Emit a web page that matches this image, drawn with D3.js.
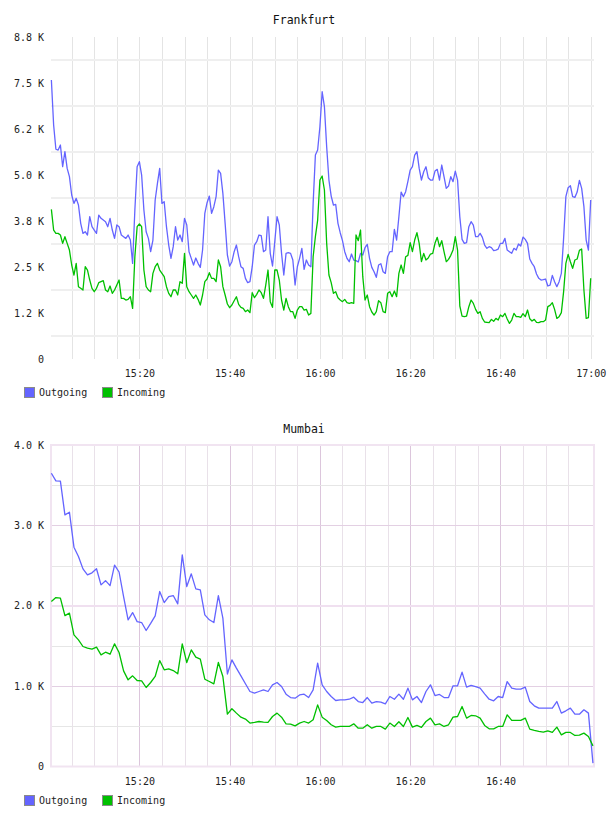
<!DOCTYPE html>
<html><head><meta charset="utf-8">
<script src="https://cdn.jsdelivr.net/npm/d3@7"></script>
<style>body{margin:0;background:#fff;} svg{display:block;}</style>
</head><body><svg id="c" width="608" height="816"></svg>
<script>
// ---------- DATA ----------
const seriesNames = ["Outgoing", "Incoming"];
const seriesColors = ["#6464ff", "#00c000"];

// Frankfurt: samples every 30 s starting 15:00:30
const frankfurtStart = "15:00:30";
const frankfurtStepSec = 30;
const frankfurtOutgoing = [
7580,6358,5700,5678,5814,5225,5633,5180,4954,4456,
4229,4365,4184,3686,3414,3459,3369,3867,3595,3505,
3414,3912,3822,3776,3731,3595,3822,3505,3278,3641,
3595,3369,3324,3278,3369,3233,2599,4048,5225,5361,
4999,4048,3459,3278,2916,3233,4320,4773,5180,4229,
4274,3595,3097,2735,3052,3595,3233,3369,3188,3822,
3641,2916,2735,2554,2744,2599,2490,2961,3957,4247,
4428,3957,4139,4410,5135,5044,4501,3686,2826,2527,
2644,2916,3097,2780,2509,2463,2192,2074,2101,2508,
3097,3188,3369,3351,2916,2961,3867,2871,2527,3188,
3867,3641,2871,2282,2871,2889,2871,2690,2010,2508,
2735,3007,2436,2690,2554,2508,4229,5543,5678,6312,
7263,6856,5769,4863,4428,4184,4202,3686,3432,3215,
2916,2735,2644,2853,2690,2672,2635,2871,2826,3025,
3115,2735,2490,2372,2219,2554,2590,2372,2327,2780,
2916,2916,3523,3233,3867,4537,4410,4546,4827,5135,
5225,5543,5633,5180,4863,5089,5225,4927,4863,4863,
5107,5153,4863,5271,4954,4637,4700,4954,4818,5107,
4863,3867,3251,3142,3160,3595,3731,3641,3324,3324,
3414,3305,3097,3007,3052,3025,2943,2961,2988,3142,
3142,3278,2961,2916,2871,3007,2961,3124,3070,3314,
3251,3142,2717,2599,2508,2309,2192,2146,2155,2173,
1983,2010,2273,2101,1965,2101,2327,3278,4410,4655,
4709,4410,4392,4537,4854,4637,4139,3233,2961,4320];
const frankfurtIncoming = [
4066,3505,3414,3414,3369,3143,3324,3143,2961,2554,
2282,2599,1965,1920,1875,2508,2418,2146,1920,1829,
1920,2074,2101,2128,1875,1829,1983,1784,1875,2010,
2146,1648,1648,1603,1621,1693,1376,2780,3595,3668,
3595,2418,1965,1875,1829,2327,2508,2599,2418,2327,
2237,1965,1784,1693,1875,1875,1739,2101,2056,2871,
1965,1829,1739,1648,1739,1621,1467,1739,2101,2173,
2345,2191,2191,2101,2690,2508,1965,1739,1494,1394,
1467,1584,1693,1485,1403,1376,1286,1331,1259,1802,
1666,1757,1874,1802,1648,2010,2418,1558,1403,2418,
2418,2146,1603,1331,1648,1422,1286,1286,1104,1331,
1422,1422,1331,1349,1195,1240,2780,3324,3776,4863,
4972,4592,3143,2282,2074,1784,1829,1666,1603,1558,
1621,1530,1512,1530,1512,3369,3215,3505,2237,1603,
1739,1422,1277,1195,1286,1584,1530,1286,1259,1784,
1829,1693,1847,1693,2327,2554,2327,2780,2817,3161,
2916,3233,3432,3143,2644,2871,2690,2744,2853,2871,
3143,3306,3052,3215,2916,2644,2708,2817,2961,3324,
2961,1440,1168,1150,1168,1422,1603,1512,1349,1240,
1286,1104,1005,996,987,1077,1023,1104,1059,1195,
1150,1240,1086,969,1059,1240,1150,1150,1132,1231,
1150,1331,1095,1032,1077,996,987,1014,1014,1059,
1422,1458,1530,1349,1104,1150,1259,1829,2599,2844,
2644,2463,2690,2717,2952,2988,1874,1104,1122,2192];

// Mumbai: samples every 60 s starting 15:00:30
const mumbaiStart = "15:00:30";
const mumbaiStepSec = 60;
const mumbaiOutgoing = [
3649,3553,3550,3131,3164,2729,2612,2459,2384,2410,
2460,2260,2312,2250,2505,2420,2114,1825,1915,1803,
1791,1692,1780,1874,2177,2040,2114,2127,2024,2633,
2239,2397,2210,2198,1887,1825,1791,2127,1846,1150,
1327,1224,1128,1029,933,913,933,954,933,1016,
1045,995,900,858,850,890,900,858,954,1286,
1016,933,871,821,829,829,837,862,808,796,
858,788,808,800,780,871,837,900,837,975,
829,871,796,933,1016,883,896,858,858,1004,
1004,1174,987,1008,995,975,904,837,817,871,
858,1057,975,962,962,987,808,755,726,726,
726,726,808,664,693,726,651,651,705,664,
42];
const mumbaiIncoming = [
2052,2102,2094,1878,1908,1638,1576,1493,1472,1460,
1485,1389,1422,1397,1526,1418,1190,1078,1128,1070,
1066,983,1045,1120,1318,1203,1215,1194,1153,1526,
1294,1451,1360,1335,1086,1057,1029,1294,1120,651,
718,664,614,590,540,548,560,552,548,622,
664,614,531,527,506,540,560,540,581,767,
614,573,519,490,498,498,498,531,477,477,
519,477,498,498,465,540,498,556,498,610,
490,511,486,560,602,519,531,498,519,614,
622,746,602,635,631,602,511,469,469,498,
498,643,573,573,573,602,465,449,436,428,
444,424,490,394,424,424,386,390,415,373,
257];

// Axis ticks
const xTimeDomain = ["15:00:25", "17:00:44"];
const frankfurtXTicks = ["15:20", "15:40", "16:00", "16:20", "16:40", "17:00"];
const mumbaiXTicks = ["15:20", "15:40", "16:00", "16:20", "16:40"];
const frankfurtYTickValues = [0, 1250, 2500, 3750, 5000, 6250, 7500, 8750];
const frankfurtYTickLabels = ["0", "1.2 K", "2.5 K", "3.8 K", "5.0 K", "6.2 K", "7.5 K", "8.8 K"];
const frankfurtYGrid = [625, 1875, 3125, 4375, 5625, 6875, 8125];
const mumbaiYTickValues = [0, 1000, 2000, 3000, 4000];
const mumbaiYTickLabels = ["0", "1.0 K", "2.0 K", "3.0 K", "4.0 K"];
const mumbaiYGridMinor = [500, 1500, 2500, 3500];
const mumbaiYGridMajor = [1000, 3000];
const mumbaiYGridStrong = [2000];

// ---------- DRAW ----------
const svg = d3.select("#c");
const FONT = "'DejaVu Sans Mono', monospace";
const parseT = s => { const p = s.split(":").map(Number); return new Date(2024, 0, 1, p[0], p[1], p[2] || 0); };

function timesFor(start, step, n) {
  const t0 = parseT(start);
  return d3.range(n).map(i => new Date(t0.getTime() + i * step * 1000));
}

function drawChart(o) {
  const g = svg.append("g");
  const x = d3.scaleTime().domain(xTimeDomain.map(parseT)).range([o.left, o.right]);
  const y = d3.scaleLinear().domain([0, o.yMax]).range([o.bottom, o.top]);

  const minorTimes = d3.timeMinute.every(5).range(parseT("15:05:00"), parseT(o.lastGrid)).concat([parseT(o.lastGrid)]);

  // vertical grid
  g.selectAll(".vg").data(minorTimes).join("line")
    .attr("x1", d => Math.round(x(d)) + 0.5).attr("x2", d => Math.round(x(d)) + 0.5)
    .attr("y1", o.top).attr("y2", o.bottom)
    .attr("stroke", d => (o.majorV && d.getMinutes() % 20 === 0) ? o.majorVColor : o.minorVColor)
    .attr("stroke-width", 1);

  // horizontal grids
  o.hGrids.forEach(hg => {
    g.selectAll(null).data(hg.values).join("line")
      .attr("x1", o.left).attr("x2", o.right)
      .attr("y1", d => Math.round(y(d)) + (hg.width % 2 ? 0.5 : 0))
      .attr("y2", d => Math.round(y(d)) + (hg.width % 2 ? 0.5 : 0))
      .attr("stroke", hg.color).attr("stroke-width", hg.width);
  });

  if (o.frame) {
    g.append("rect").attr("x", o.left).attr("y", o.top)
      .attr("width", o.right - o.left).attr("height", o.bottom - o.top)
      .attr("fill", "none").attr("stroke", o.frame).attr("stroke-width", 2);
  }

  // lines
  const times = timesFor(o.start, o.step, o.series[0].length);
  const line = d3.line().x((d, i) => x(times[i])).y(d => y(d));
  o.series.forEach((s, k) => {
    g.append("path").datum(s).attr("d", line)
      .attr("fill", "none").attr("stroke", seriesColors[k])
      .attr("stroke-width", 1.3).attr("stroke-linejoin", "round");
  });

  // y axis
  const ya = g.append("g").attr("transform", `translate(${o.left},0)`)
    .call(d3.axisLeft(y).tickValues(o.yTicks).tickFormat((d, i) => o.yLabels[i]).tickSize(0).tickPadding(7));
  ya.select(".domain").remove();
  ya.selectAll("text").attr("font-family", FONT).attr("font-size", 10).attr("fill", "#222");

  // x axis
  const xa = g.append("g").attr("transform", `translate(0,${o.bottom})`)
    .call(d3.axisBottom(x).tickValues(o.xTicks.map(s => parseT(s + ":00")))
      .tickFormat(d3.timeFormat("%H:%M")).tickSize(0).tickPadding(o.xPad));
  xa.select(".domain").remove();
  xa.selectAll("text").attr("font-family", FONT).attr("font-size", 10).attr("fill", "#222");

  // title
  g.append("text").attr("x", 304).attr("y", o.titleY).attr("dy", "0.35em")
    .attr("text-anchor", "middle").attr("font-family", FONT).attr("font-size", 11.5)
    .attr("fill", "#111").text(o.title);

  // legend
  const legX = [24, 102];
  seriesNames.forEach((n, k) => {
    g.append("rect").attr("x", legX[k] + 0.5).attr("y", o.legendY + 0.5).attr("width", 10).attr("height", 10)
      .attr("fill", seriesColors[k]).attr("stroke", "#8a8a8a").attr("stroke-width", 1);
    g.append("text").attr("x", legX[k] + 15).attr("y", o.legendY + 5.5).attr("dy", "0.35em")
      .attr("font-family", FONT).attr("font-size", 10).attr("fill", "#222").text(n);
  });
}

drawChart({
  title: "Frankfurt", titleY: 20,
  left: 51, right: 594, top: 37, bottom: 359, yMax: 8750,
  start: frankfurtStart, step: frankfurtStepSec,
  series: [frankfurtOutgoing, frankfurtIncoming],
  yTicks: frankfurtYTickValues, yLabels: frankfurtYTickLabels,
  xTicks: frankfurtXTicks, xPad: 10.5,
  lastGrid: "17:00:00",
  minorVColor: "#e4e4e4", majorV: false,
  hGrids: [{ values: frankfurtYGrid, color: "#efefef", width: 2 }],
  frame: null, legendY: 387
});

drawChart({
  title: "Mumbai", titleY: 429,
  left: 51, right: 594, top: 445, bottom: 766.5, yMax: 4000,
  start: mumbaiStart, step: mumbaiStepSec,
  series: [mumbaiOutgoing, mumbaiIncoming],
  yTicks: mumbaiYTickValues, yLabels: mumbaiYTickLabels,
  xTicks: mumbaiXTicks, xPad: 11.5,
  lastGrid: "16:55:00",
  minorVColor: "#e9e1e9", majorV: true, majorVColor: "#dcc6dc",
  hGrids: [
    { values: mumbaiYGridMinor, color: "#e6e6e6", width: 1 },
    { values: mumbaiYGridMajor, color: "#e3d0e3", width: 1 },
    { values: mumbaiYGridStrong, color: "#f0e0f0", width: 2 }
  ],
  frame: "#f1e4f1", legendY: 795
});
</script>
</body></html>
